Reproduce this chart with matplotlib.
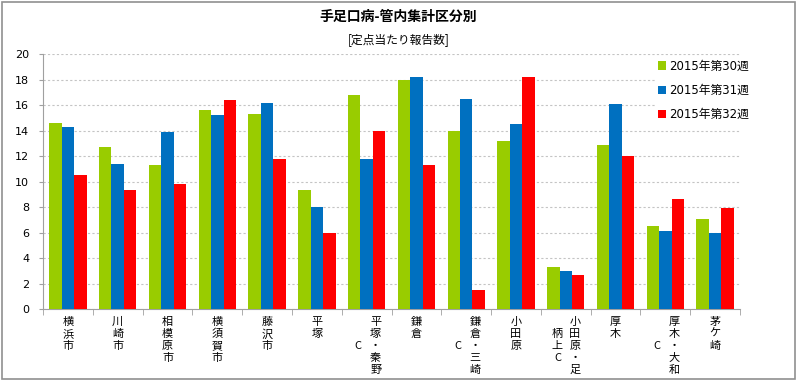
import matplotlib.pyplot as plt
import numpy as np
from matplotlib.patches import Rectangle

plt.rcParams['font.family'] = ['DejaVu Sans', 'Noto Sans CJK JP']

# categories, written as columns of vertical text (right column, left column)
categories = ['横浜市', '川崎市', '相模原市', '横須賀市', '藤沢市', '平塚', '平塚・秦野C',
              '鎌倉', '鎌倉・三崎C', '小田原', '小田原・足柄上C', '厚木', '厚木・大和C', '茅ケ崎']
label_cols = [
    ['横浜市'], ['川崎市'], ['相模原市'], ['横須賀市'], ['藤沢市'], ['平塚'],
    ['平塚・秦野', '  C'], ['鎌倉'], ['鎌倉・三崎', '  C'], ['小田原'],
    ['小田原・足', ' 柄上C'], ['厚木'], ['厚木・大和', '  C'], ['茅ケ崎'],
]
series_names = ['2015年第30週', '2015年第31週', '2015年第32週']
week30 = [14.6, 12.7, 11.3, 15.6, 15.3, 9.3, 16.8, 18.0, 14.0, 13.2, 3.3, 12.9, 6.5, 7.1]
week31 = [14.3, 11.4, 13.9, 15.2, 16.2, 8.0, 11.8, 18.2, 16.5, 14.5, 3.0, 16.1, 6.1, 6.0]
week32 = [10.5, 9.3, 9.8, 16.4, 11.8, 6.0, 14.0, 11.3, 1.5, 18.2, 2.7, 12.0, 8.6, 7.9]
colors = ['#99CC00', '#0070C0', '#FF0000']

fig = plt.figure(figsize=(7.97, 3.81), dpi=100)
ax = fig.add_axes([0.054, 0.189, 0.8745, 0.669])

x = np.arange(len(categories))
w = 0.25
for k, vals in enumerate([week30, week31, week32]):
    ax.bar(x + (k - 1) * w, vals, w, color=colors[k], label=series_names[k], zorder=3)

ax.set_xlim(-0.5, len(categories) - 0.5)
ax.set_ylim(0, 20)
ax.set_yticks(range(0, 21, 2))
ax.tick_params(axis='y', labelsize=8, length=3, pad=7, color='#A0A0A0')
ax.set_xticks([])
ax.set_xticks(np.arange(-0.5, len(categories)), minor=True)
ax.tick_params(axis='x', which='minor', length=4, color='#A0A0A0')
ax.yaxis.grid(True, linestyle=(0, (2, 2)), color='#C4C4C4', linewidth=0.8)
ax.set_axisbelow(True)
for s in ['top', 'right']:
    ax.spines[s].set_visible(False)
for s in ['left', 'bottom']:
    ax.spines[s].set_color('#A0A0A0')

# vertical category labels
row = 8.6
for i, cols in enumerate(label_cols):
    offs = [0] if len(cols) == 1 else [6.5, -6]
    for col, dx in zip(cols, offs):
        for r, ch in enumerate(col):
            if ch == ' ':
                continue
            ax.annotate(ch, xy=(i, 0), xycoords=('data', 'axes fraction'),
                        xytext=(dx, -9.5 - r * row), textcoords='offset points',
                        ha='center', va='center', fontsize=8,
                        family=['Noto Sans CJK JP', 'DejaVu Sans'])

fig.text(0.5, 0.955, '手足口病-管内集計区分別', ha='center', va='center',
         fontsize=10, fontweight='bold', family=['Noto Sans CJK JP', 'DejaVu Sans'])
fig.text(0.5, 0.897, '[定点当たり報告数]', ha='center', va='center',
         fontsize=8.5, family=['Noto Sans CJK JP', 'DejaVu Sans'])

ax.legend(loc='upper left', bbox_to_anchor=(0.815, 0.865), bbox_transform=fig.transFigure,
          frameon=True, edgecolor='none', facecolor='white', framealpha=1,
          fontsize=8.5, handlelength=0.7, handleheight=0.7, handletextpad=0.3,
          labelspacing=0.95, borderpad=0.2)

fig.patches.append(Rectangle((0.002, 0.004), 0.996, 0.992, transform=fig.transFigure,
                             fill=False, edgecolor='#909090', linewidth=1.2))

fig.savefig('out.png', dpi=100)
